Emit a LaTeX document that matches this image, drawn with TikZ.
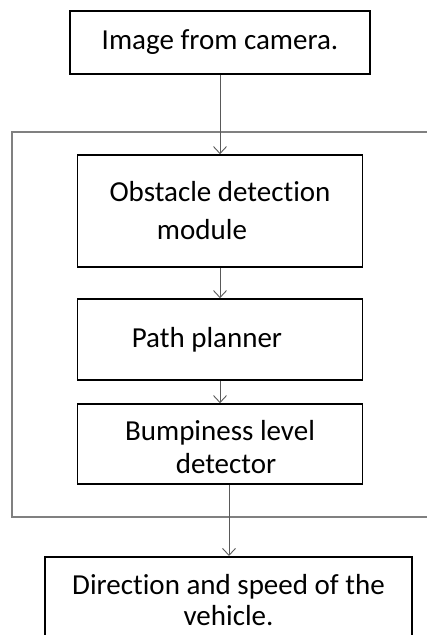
\documentclass[tikz,border=0pt]{standalone}
\usepackage{fontspec}
\setmainfont{Carlito}[Ligatures=NoCommon]
\usepackage{tikz}
\usetikzlibrary{shapes.geometric, arrows}
\usetikzlibrary{positioning}
\usetikzlibrary{arrows.meta}
\tikzstyle{block} = [rectangle, draw=black, line width=1.6pt, inner sep=0pt, text centered,
font=\fontsize{29}{33}\selectfont]
\tikzstyle{arrow} = [draw=black!65, line width=0.9pt, -{Straight Barb[length=7pt,width=13pt]}]

\begin{document}
\begin{tikzpicture}[x=1pt, y=-1pt]
  \tikzstyle{frame}=[draw=black!50, line width=1.4pt]
  \clip (0,0) rectangle (427,635);

  \node (cam) [block, minimum width=300pt, minimum height=63pt] at (220,42.5) {Image from camera.};
  \node (obs) [block, minimum width=285pt, minimum height=112pt, align=center] at (220,211)
  {Obstacle detection\\[5pt]module\hspace*{36pt}};
  \node (path) [block, minimum width=285pt, minimum height=81pt] at (220,339.5)
  {Path planner\hspace*{26pt}};
  \node (bump) [block, minimum width=285pt, minimum height=80pt, align=center,
  font=\fontsize{29}{33}\selectfont] at (220,444) {\rule{0pt}{26pt}Bumpiness level\\\hspace*{12pt}detector};
  \node (dir) [block, minimum width=367pt, minimum height=86pt, align=center,
  font=\fontsize{29}{31}\selectfont, anchor=north] at (228.5,556)
  {Direction and speed of the\\vehicle.};

  % processing stage
  \draw[frame] (12,132) rectangle (440,517);

  \draw[arrow] (cam) -- (obs);
  \draw[arrow] (obs) -- (path);
  \draw[arrow] (path) -- (bump);
  \draw[arrow] ([xshift=9pt]bump.south) -- ([xshift=9pt]bump.south |- dir.north);

\end{tikzpicture}
\end{document}
